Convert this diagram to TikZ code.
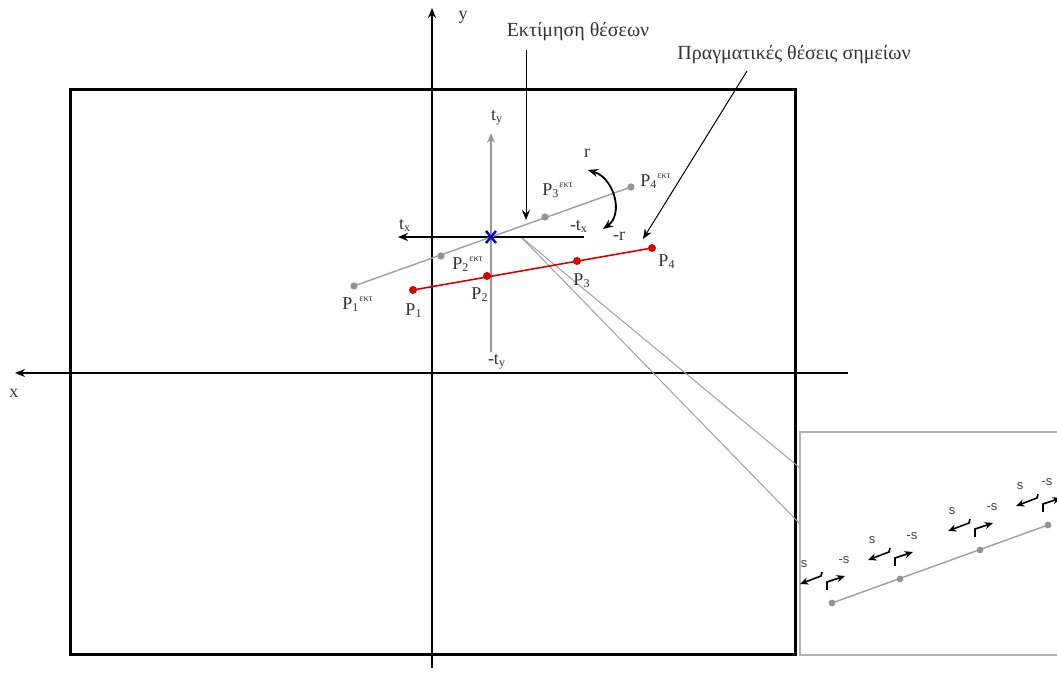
\documentclass[tikz,border=0pt]{standalone}
\usepackage{fontspec}
\setmainfont{Liberation Serif}
\newfontfamily\sansf{Liberation Sans}
\usetikzlibrary{arrows.meta}
\newcommand{\Plab}[2]{P\ensuremath{{}_{\mbox{\fontsize{6}{6}\selectfont #1}}{}^{\mbox{\fontsize{5}{5}\selectfont #2}}}}
\newcommand{\Psub}[1]{P\ensuremath{_{\mbox{\fontsize{6}{6}\selectfont #1}}}}
\newcommand{\sgrp}[3]{%
  \begin{scope}[shift={(#1,#2)}]
    \fill[ptgray] (0,0) circle[radius=3.4];
    \node[slab] at (-28,-39) {s};
    \node[slab] at (#3,-43) {-s};
    \draw[sarr] (-10,-31) -- (-11,-27) -- (-32,-19);
    \draw[sarr] (-5,-13) -- (-5,-21) -- (13,-27);
  \end{scope}}
\begin{document}
\begin{tikzpicture}[x=0.5pt,y=-0.5pt,
  >={Stealth[length=5pt,width=4pt]},
  ptgray/.style={gray!85},
  lbl/.style={font=\fontsize{10}{12}\selectfont, text=black!80, inner sep=0pt},
  plab/.style={font=\fontsize{9}{10}\selectfont, text=black!80, inner sep=0pt},
  slab/.style={font=\sansf\fontsize{6.5}{7}\selectfont, text=black!75, inner sep=0pt},
  sarr/.style={->, >={Stealth[length=4.2pt,width=3.6pt]}, line width=0.8pt},
  axis/.style={line width=0.9pt},
  thin gray/.style={draw=gray!75, line width=0.5pt}]
\useasboundingbox (0,0) rectangle (1057,673);

% main frame
\draw[line width=1.5pt] (70,90) rectangle (795,655);
% inset frame
\draw[draw=gray!60, line width=0.6pt] (800,432) rectangle (1070,655);

% axes
\coordinate (yb) at (432,668);
\coordinate (yt) at (432,8);
\coordinate (xr) at (848,373);
\coordinate (xl) at (15,373);
\draw[axis,->] (yb) -- (yt);
\draw[axis,->] (xr) -- (xl);
\node[plab] (ylab) at (463,17) {y};
\node[plab] (xlab) at (14,393) {x};

% zoom lines
\coordinate (zs) at (521,237);
\coordinate (z1) at (800,468);
\coordinate (z2) at (800,524);
\draw[thin gray] (zs) -- (z1);
\draw[thin gray] (zs) -- (z2);

% t axes
\coordinate (tyb) at (491,352);
\coordinate (tyt) at (491,133);
\coordinate (txr) at (584,237);
\coordinate (txl) at (398,237);
\draw[draw=gray!80, line width=1pt,->] (tyb) -- (tyt);
\draw[line width=0.8pt,->] (txr) -- (txl);
\node[plab] (ty) at (497,118) {t\ensuremath{_{\mbox{\fontsize{6}{6}\selectfont y}}}};
\node[plab] (mty) at (497,362) {-t\ensuremath{_{\mbox{\fontsize{6}{6}\selectfont y}}}};
\node[plab] (tx) at (405,225) {t\ensuremath{_{\mbox{\fontsize{6}{6}\selectfont x}}}};
\node[plab] (mtx) at (579,226) {-t\ensuremath{_{\mbox{\fontsize{6}{6}\selectfont x}}}};

% estimated positions (gray)
\coordinate (E1) at (354,286);
\coordinate (E2) at (441,256);
\coordinate (E3) at (545,217);
\coordinate (E4) at (631,187);
\draw[thin gray, line width=0.7pt] (E1) -- (E4);
\foreach \p in {E1,E2,E3,E4} \fill[ptgray] (\p) circle[radius=3.6];
\node[plab] (le1) at (358,304) {\Plab{1}{εκτ}};
\node[plab] (le2) at (468,264) {\Plab{2}{εκτ}};
\node[plab] (le3) at (558,190) {\Plab{3}{εκτ}};
\node[plab] (le4) at (656,181) {\Plab{4}{εκτ}};

% real positions (red)
\coordinate (R1) at (413,290);
\coordinate (R2) at (487,276);
\coordinate (R3) at (577,261);
\coordinate (R4) at (652,248);
\draw[red!85!black, line width=0.8pt] (R1) -- (R4);
\foreach \p in {R1,R2,R3,R4} \fill[red!85!black] (\p) circle[radius=4];
\node[plab] (lr1) at (414,311) {\Psub{1}};
\node[plab] (lr2) at (480,295) {\Psub{2}};
\node[plab] (lr3) at (582,281) {\Psub{3}};
\node[plab] (lr4) at (667,262) {\Psub{4}};

% origin cross
\draw[blue!80!black, line width=1.2pt] (486,231) -- (496,243) (486,243) -- (496,231);

% rotation
\coordinate (ra) at (588,170);
\coordinate (rb) at (603,229);
\draw[line width=0.9pt,<->] (ra) .. controls (614,178) and (624,214) .. (rb);
\node[plab] (rl) at (587,153) {r};
\node[plab] (mrl) at (619,236) {-r};

% callouts
\node[lbl] (est) at (578,32) {Εκτίμηση θέσεων};
\coordinate (esta) at (526,50);
\coordinate (estb) at (526,220);
\draw[line width=0.5pt,->] (esta) -- (estb);
\node[lbl] (real) at (794,55) {Πραγματικές θέσεις σημείων};
\coordinate (reala) at (747,71);
\coordinate (realb) at (643,239);
\draw[line width=0.5pt,->] (reala) -- (realb);

% inset content
\coordinate (I1) at (832,603);
\coordinate (I4) at (1048,525);
\draw[thin gray, line width=0.7pt] (I1) -- (I4);
\sgrp{832}{603}{12}
\sgrp{900}{579}{12}
\sgrp{980}{550}{12}
\sgrp{1048}{525}{-1}
\end{tikzpicture}
\end{document}
